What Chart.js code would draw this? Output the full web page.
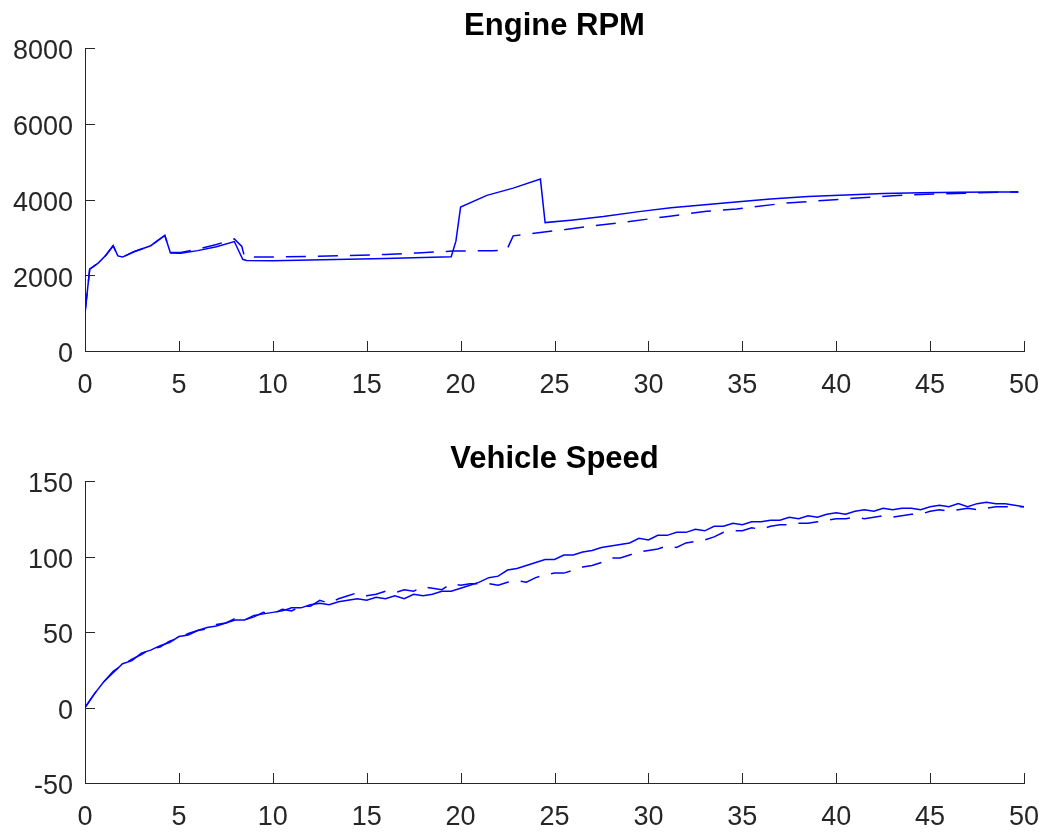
<!DOCTYPE html>
<html>
<head>
<meta charset="utf-8">
<script src="https://cdn.jsdelivr.net/npm/chart.js@4.4.0/dist/chart.umd.min.js"></script>
<style>
  body { margin: 0; background: #fff; }
  canvas { display: block; }
</style>
</head>
<body>
<canvas id="rpmChart" width="1048" height="416"></canvas>
<canvas id="speedChart" width="1048" height="417"></canvas>
<script>
// Engine RPM (solid and dashed traces)
const rpmTimeSolid = [0, 0.25, 0.7, 1.1, 1.5, 1.75, 2.0, 2.6, 3.5, 4.25, 4.55, 5.1, 6.0, 7.0, 7.95, 8.4, 8.6, 10, 12, 14, 16, 18, 19.5, 19.75, 20.0, 21.4, 22.8, 24.25, 24.5, 26, 27.6, 29.5, 31.2, 33, 34.8, 36.5, 38.5, 40.5, 42.5, 44.5, 46.5, 48.5, 49.7];
const rpmSolid = [1000, 2160, 2320, 2520, 2780, 2510, 2480, 2620, 2780, 3050, 2590, 2580, 2650, 2750, 2890, 2420, 2390, 2385, 2400, 2420, 2440, 2470, 2490, 2900, 3800, 4110, 4300, 4540, 3390, 3460, 3550, 3680, 3780, 3860, 3940, 4010, 4080, 4120, 4160, 4180, 4190, 4200, 4200];
const rpmTimeDashed = [0, 0.25, 0.7, 1.1, 1.5, 1.75, 2.0, 2.6, 3.5, 4.25, 4.55, 5.1, 6.0, 7.0, 7.95, 8.35, 8.5, 10, 12, 14, 16, 17.7, 19.6, 21.7, 22.45, 22.8, 25.6, 26.7, 29, 31.15, 33.1, 34.7, 37.2, 40.9, 43, 45.2, 48.7, 49.7];
const rpmDashed = [1000, 2160, 2320, 2520, 2780, 2510, 2480, 2620, 2780, 3050, 2600, 2600, 2690, 2810, 2960, 2760, 2480, 2480, 2500, 2520, 2550, 2590, 2640, 2650, 2660, 3040, 3210, 3280, 3420, 3560, 3690, 3750, 3900, 4030, 4100, 4145, 4190, 4200];

// Vehicle speed, sampled every 0.5 s
const speedTime = [0, 0.5, 1, 1.5, 2, 2.5, 3, 3.5, 4, 4.5, 5, 5.5, 6, 6.5, 7, 7.5, 8, 8.5, 9, 9.5, 10, 10.5, 11, 11.5, 12, 12.5, 13, 13.5, 14, 14.5, 15, 15.5, 16, 16.5, 17, 17.5, 18, 18.5, 19, 19.5, 20, 20.5, 21, 21.5, 22, 22.5, 23, 23.5, 24, 24.5, 25, 25.5, 26, 26.5, 27, 27.5, 28, 28.5, 29, 29.5, 30, 30.5, 31, 31.5, 32, 32.5, 33, 33.5, 34, 34.5, 35, 35.5, 36, 36.5, 37, 37.5, 38, 38.5, 39, 39.5, 40, 40.5, 41, 41.5, 42, 42.5, 43, 43.5, 44, 44.5, 45, 45.5, 46, 46.5, 47, 47.5, 48, 48.5, 49, 49.5, 50];
const speedSolid = [0, 9, 17, 23, 29, 31, 36, 38, 41, 43, 47, 48, 51, 53, 54, 56, 58, 58, 61, 62, 63, 64, 66, 66, 68, 69, 68, 70, 71, 72, 71, 73, 72, 74, 72, 75, 74, 75, 77, 77, 79, 81, 83, 86, 87, 91, 92, 94, 96, 98, 98, 101, 101, 103, 104, 106, 107, 108, 109, 112, 111, 114, 114, 116, 116, 118, 117, 120, 120, 122, 121, 123, 123, 124, 124, 126, 125, 127, 126, 128, 129, 128, 130, 131, 130, 132, 131, 132, 132, 131, 133, 134, 133, 135, 133, 135, 136, 135, 135, 134, 133];
const speedDashed = [0, 9, 17, 24, 28, 32, 35, 39, 40, 44, 46, 49, 51, 52, 55, 56, 59, 58, 60, 63, 62, 65, 64, 67, 67, 71, 69, 72, 74, 76, 74, 75, 77, 76, 78, 77, 80, 79, 78, 82, 81, 82, 82, 82, 81, 83, 84, 83, 86, 88, 89, 89, 91, 93, 94, 96, 99, 99, 101, 103, 104, 105, 107, 106, 109, 110, 111, 113, 116, 117, 117, 119, 118, 120, 121, 121, 122, 122, 123, 124, 125, 125, 126, 125, 126, 127, 126, 127, 128, 128, 130, 131, 130, 131, 132, 131, 132, 133, 133, 133, 133];

const xTicks = [0, 5, 10, 15, 20, 25, 30, 35, 40, 45, 50];
const rpmTicks = [0, 2000, 4000, 6000, 8000];
const speedTicks = [-50, 0, 50, 100, 150];

Chart.defaults.font.family = "'Liberation Sans', Arial, sans-serif";
Chart.defaults.color = '#262626';

const axisColor = '#262626';

// MATLAB style: ticks pointing into the plot, title centred over the axes
const matlabAxes = {
  id: 'matlabAxes',
  afterDraw(chart, args, opts) {
    const { ctx, chartArea: a, scales: { x, y } } = chart;
    ctx.save();
    ctx.strokeStyle = axisColor;
    ctx.lineWidth = 1;
    ctx.beginPath();
    x.ticks.forEach(t => {
      const px = Math.round(x.getPixelForValue(t.value)) + 0.5;
      ctx.moveTo(px, a.bottom);
      ctx.lineTo(px, a.bottom - 10);
    });
    y.ticks.forEach(t => {
      const py = Math.round(y.getPixelForValue(t.value)) + 0.5;
      ctx.moveTo(a.left, py);
      ctx.lineTo(a.left + 10, py);
    });
    ctx.stroke();
    ctx.fillStyle = '#000';
    ctx.font = "bold 31px 'Liberation Sans', Arial, sans-serif";
    ctx.textAlign = 'center';
    ctx.textBaseline = 'alphabetic';
    ctx.fillText(opts.text, (a.left + a.right) / 2, a.top - 13);
    ctx.restore();
  }
};

function pts(xs, ys) {
  return xs.map((t, i) => ({ x: t, y: ys[i] }));
}

function makeChart(id, title, topPad, solid, dashed, yTicks, xHeight) {
  return new Chart(document.getElementById(id), {
    type: 'line',
    data: {
      datasets: [
        { data: solid, borderColor: '#0000ff', borderWidth: 1.5, pointRadius: 0, tension: 0 },
        { data: dashed, borderColor: '#0000ff', borderWidth: 1.5, pointRadius: 0, tension: 0, borderDash: [20, 12] }
      ]
    },
    options: {
      responsive: false,
      animation: false,
      layout: { padding: { left: 0, right: 24, top: topPad, bottom: 0 } },
      plugins: {
        legend: { display: false },
        tooltip: { enabled: false },
        title: { display: false },
        matlabAxes: { text: title }
      },
      scales: {
        x: {
          type: 'linear',
          min: xTicks[0],
          max: xTicks[xTicks.length - 1],
          afterBuildTicks: s => { s.ticks = xTicks.map(v => ({ value: v })); },
          afterFit: s => { s.height = xHeight; s.paddingLeft = 0; s.paddingRight = 0; },
          grid: { display: false, drawTicks: false },
          border: { display: true, color: axisColor, width: 1 },
          ticks: { font: { size: 27 }, padding: 18, maxRotation: 0, callback: v => String(v) }
        },
        y: {
          min: yTicks[0],
          max: yTicks[yTicks.length - 1],
          afterBuildTicks: s => { s.ticks = yTicks.map(v => ({ value: v })); },
          afterFit: s => { s.width = 85; s.paddingTop = 0; s.paddingBottom = 0; },
          grid: { display: false, drawTicks: false },
          border: { display: true, color: axisColor, width: 1 },
          ticks: { font: { size: 27 }, padding: 12, labelOffset: 4, callback: v => String(v) }
        }
      }
    },
    plugins: [matlabAxes]
  });
}

makeChart('rpmChart', 'Engine RPM', 48,
  pts(rpmTimeSolid, rpmSolid), pts(rpmTimeDashed, rpmDashed), rpmTicks, 65);
makeChart('speedChart', 'Vehicle Speed', 65,
  pts(speedTime, speedSolid), pts(speedTime, speedDashed), speedTicks, 50);
</script>
</body>
</html>
